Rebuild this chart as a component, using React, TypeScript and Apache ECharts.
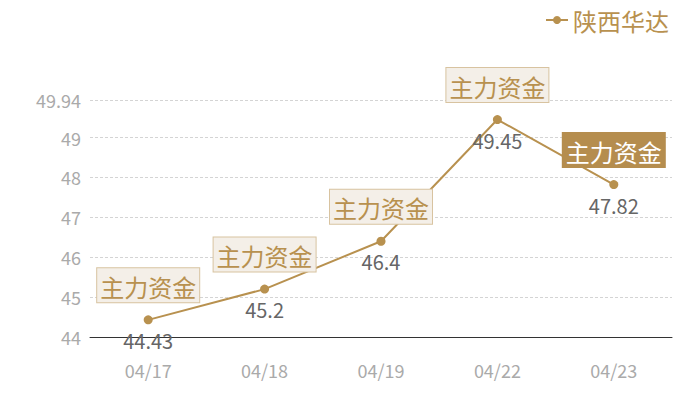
import { useEffect, useRef } from 'react';
import * as echarts from 'echarts';

const dates = ['04/17', '04/18', '04/19', '04/22', '04/23'];
const prices = [44.43, 45.2, 46.4, 49.45, 47.82];
const tagText = '主力资金';
const seriesName = '陕西华达';
const yMin = 44;
const yMax = 49.94;

const gold = '#b8914f';

const App = () => {
    const chartRef = useRef<HTMLDivElement>(null);

    useEffect(() => {
        if (!chartRef.current) return;
        const myChart = echarts.init(chartRef.current, null, { renderer: 'svg' });

        const option = {
            animation: false,
            textStyle: { fontFamily: '"Noto Sans CJK SC", "Noto Sans", sans-serif' },
            legend: {
                data: [seriesName],
                right: 26,
                top: 3,
                itemWidth: 22,
                itemHeight: 10,
                textStyle: { color: gold, fontSize: 24 },
            },
            grid: { left: 90, right: 28, top: 100, bottom: 63 },
            xAxis: {
                type: 'category',
                data: dates,
                axisLine: { lineStyle: { color: '#333', width: 1 } },
                axisTick: { show: false },
                axisLabel: { color: '#aaa', fontSize: 18, margin: 24 },
            },
            yAxis: {
                type: 'value',
                min: yMin,
                max: yMax,
                interval: 1,
                axisLine: { show: false },
                axisTick: { show: false },
                axisLabel: { color: '#aaa', fontSize: 18, margin: 9 },
                splitLine: { lineStyle: { color: '#d4d4d4', type: [3, 2] } },
            },
            series: [
                {
                    name: seriesName,
                    type: 'line',
                    data: prices,
                    symbol: 'circle',
                    symbolSize: 9,
                    itemStyle: { color: gold },
                    lineStyle: { color: gold, width: 2 },
                    label: {
                        show: true,
                        position: 'bottom',
                        distance: 6,
                        color: '#666',
                        fontSize: 20,
                    },
                    z: 3,
                },
                {
                    name: 'tag',
                    type: 'line',
                    data: prices.map((v, i) =>
                        i === prices.length - 1
                            ? {
                                  value: v,
                                  label: {
                                      color: '#fff',
                                      backgroundColor: '#b58d4e',
                                      borderColor: '#b58d4e',
                                  },
                              }
                            : v
                    ),
                    symbol: 'circle',
                    symbolSize: 1,
                    showSymbol: true,
                    itemStyle: { color: 'rgba(0,0,0,0)' },
                    lineStyle: { opacity: 0 },
                    silent: true,
                    label: {
                        show: true,
                        position: 'top',
                        distance: 17,
                        formatter: tagText,
                        color: gold,
                        fontSize: 24,
                        lineHeight: 26,
                        backgroundColor: '#f4efe8',
                        borderColor: '#d8c3a0',
                        borderWidth: 1,
                        padding: [5, 3, 3, 3],
                    },
                    z: 4,
                },
            ],
        };

        myChart.setOption(option);

        return () => {
            myChart.dispose();
        };
    }, []);

    return <div ref={chartRef} style={{ width: '700px', height: '400px', margin: '-8px' }} />;
};

export default App;
